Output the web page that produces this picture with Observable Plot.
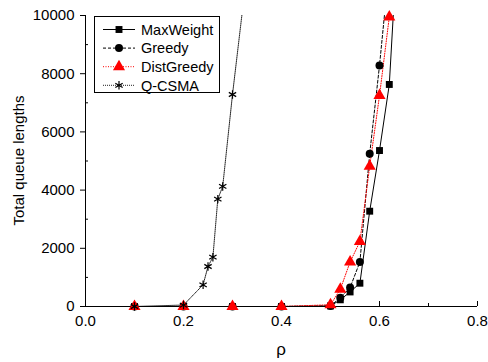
<!DOCTYPE html>
<html><head><meta charset="utf-8">
<script src="https://cdn.jsdelivr.net/npm/d3@7"></script>
<script src="https://cdn.jsdelivr.net/npm/@observablehq/plot@0.6"></script>
<style>
body{margin:0;background:#fff}
svg{font-family:"Liberation Sans",Arial,sans-serif}
</style>
</head><body><div id="chart"></div>
<script>
const seriesNames = ["MaxWeight", "Greedy", "DistGreedy", "Q-CSMA"];

const maxWeightRho = [0.1, 0.2, 0.3, 0.4, 0.5, 0.52, 0.54, 0.56, 0.58, 0.60, 0.62, 0.64];
const maxWeightQ   = [0, 0, 0, 0, 20, 230, 500, 800, 3275, 5360, 7630, 13500];

const greedyRho = [0.1, 0.2, 0.3, 0.4, 0.5, 0.52, 0.54, 0.56, 0.58, 0.60, 0.62];
const greedyQ   = [0, 0, 0, 0, 20, 300, 650, 1530, 5250, 8280, 11700];

const distGreedyRho = [0.1, 0.2, 0.3, 0.4, 0.5, 0.52, 0.54, 0.56, 0.58, 0.60, 0.62];
const distGreedyQ   = [0, 0, 0, 0, 60, 590, 1530, 2230, 4820, 7250, 9950];

const qcsmaRho = [0.1, 0.2, 0.24, 0.25, 0.26, 0.27, 0.28, 0.30, 0.35];
const qcsmaQ   = [0, 50, 745, 1375, 1695, 3690, 4125, 7285, 14400];

const xMajorTicks = [0, 0.2, 0.4, 0.6, 0.8];
const xMinorTicks = [0.1, 0.3, 0.5, 0.7];
const yMajorTicks = [0, 2000, 4000, 6000, 8000, 10000];
const yMinorTicks = [1000, 3000, 5000, 7000, 9000];

const xLabel = "ρ";
const yLabel = "Total queue lengths";

const styles = {
  "MaxWeight":  {stroke: "#000", dash: null,    symbol: "square",   fill: "#000", r: 3.9},
  "Greedy":     {stroke: "#000", dash: "3,2",   symbol: "circle",   fill: "#000", r: 4},
  "DistGreedy": {stroke: "#f00", dash: "1,1.5", symbol: "triangle", fill: "#f00", r: 4.5},
  "Q-CSMA":     {stroke: "#222", dash: "1,1",   symbol: "asterisk", fill: "none", r: 4}
};

const raw = {
  "MaxWeight": [maxWeightRho, maxWeightQ],
  "Greedy": [greedyRho, greedyQ],
  "DistGreedy": [distGreedyRho, distGreedyQ],
  "Q-CSMA": [qcsmaRho, qcsmaQ]
};
const rows = {};
for (const s of seriesNames) {
  const [xs, ys] = raw[s];
  rows[s] = xs.map((x, i) => ({series: s, rho: x, q: ys[i]}));
}

const W = 488, H = 362, mt = 15, mb = 56, ml = 85, mr = 11;
const plotH = H - mt - mb, plotW = W - ml - mr;

const seriesMarks = [];
for (const s of seriesNames) {
  const st = styles[s];
  seriesMarks.push(Plot.line(rows[s], {x: "rho", y: "q", stroke: st.stroke, strokeWidth: 1, strokeDasharray: st.dash, clip: true}));
}
for (const s of seriesNames) {
  const st = styles[s];
  if (st.symbol === "asterisk") {
    seriesMarks.push(Plot.dot(rows[s], {x: "rho", y: "q", symbol: "asterisk", stroke: "#000", strokeWidth: 1.2, fill: "none", r: st.r}));
  } else {
    seriesMarks.push(Plot.dot(rows[s], {x: "rho", y: "q", symbol: st.symbol, fill: st.fill, stroke: "none", r: st.r}));
  }
}

const chart = Plot.plot({
  width: W, height: H,
  marginTop: mt, marginBottom: mb, marginLeft: ml, marginRight: mr,
  style: {fontSize: "15px", fontFamily: "'Liberation Sans', Arial, sans-serif", background: "#fff", color: "#000"},
  x: {domain: [0, 0.8]},
  y: {domain: [0, 10000]},
  marks: [
    Plot.axisX({ticks: xMajorTicks, tickSize: 0, tickPadding: 9, tickFormat: d3.format(".1f"), label: null, fontSize: 15}),
    Plot.axisY({ticks: yMajorTicks, tickSize: 5, tickPadding: 6, tickFormat: d3.format("d"), label: null, fontSize: 15}),
    Plot.tickX(xMajorTicks, {x: d => d, insetTop: plotH - 5, stroke: "#000"}),
    Plot.tickX(xMinorTicks, {x: d => d, insetTop: plotH - 3, stroke: "#000"}),
    Plot.tickY(yMinorTicks, {y: d => d, insetRight: plotW - 3, stroke: "#000"}),
    Plot.ruleY([0], {stroke: "#000"}),
    Plot.ruleX([0], {stroke: "#000"}),
    ...seriesMarks
  ]
});

const svg = d3.select(chart);
// axis titles
svg.append("text")
  .attr("x", ml + plotW / 2).attr("y", 355)
  .attr("text-anchor", "middle").attr("font-size", 17).text(xLabel);
svg.append("text")
  .attr("transform", `translate(24,${mt + plotH / 2}) rotate(-90)`)
  .attr("text-anchor", "middle").attr("font-size", 15).text(yLabel);

// legend
const lg = svg.append("g").attr("transform", "translate(94,16)");
lg.append("rect").attr("x", 0.5).attr("y", 0.5).attr("width", 125).attr("height", 76)
  .attr("fill", "#fff").attr("stroke", "#000");
seriesNames.forEach((s, i) => {
  const st = styles[s];
  const cy = 13.5 + i * 18.6;
  lg.append("line").attr("x1", 9).attr("x2", 41).attr("y1", cy).attr("y2", cy)
    .attr("stroke", st.stroke).attr("stroke-width", 1).attr("stroke-dasharray", st.dash);
  const symType = {square: d3.symbolSquare, circle: d3.symbolCircle, triangle: d3.symbolTriangle, asterisk: d3.symbolAsterisk}[st.symbol];
  const path = lg.append("path").attr("transform", `translate(25,${cy})`)
    .attr("d", d3.symbol(symType, Math.PI * st.r * st.r)());
  if (st.symbol === "asterisk") path.attr("fill", "none").attr("stroke", "#000").attr("stroke-width", 1.2);
  else path.attr("fill", st.fill);
  lg.append("text").attr("x", 47).attr("y", cy).attr("dy", "0.36em")
    .attr("text-anchor", "start").attr("font-size", 14.5).text(s);
});

document.getElementById("chart").appendChild(chart);
</script>
</body></html>
